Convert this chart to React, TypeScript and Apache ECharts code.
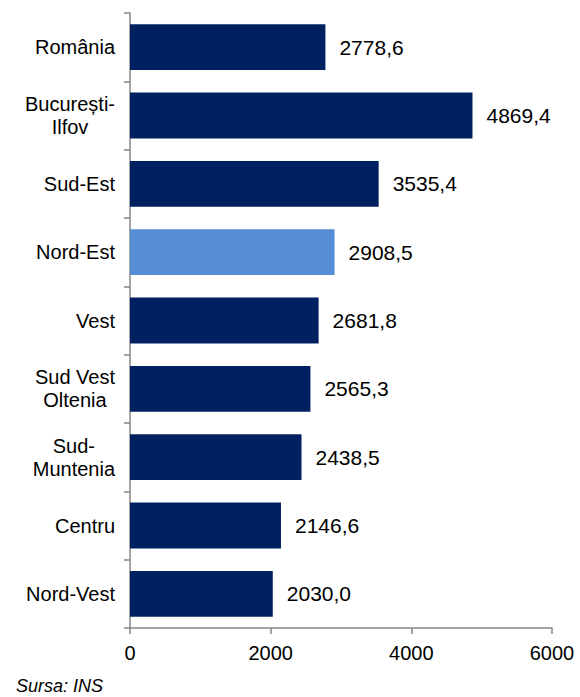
import React, { useEffect, useRef } from "react";
import * as echarts from "echarts";

const categories = [
  "România",
  "București-\nIlfov",
  "Sud-Est",
  "Nord-Est",
  "Vest",
  "Sud Vest\nOltenia",
  "Sud-\nMuntenia",
  "Centru",
  "Nord-Vest",
];
const values = [2778.6, 4869.4, 3535.4, 2908.5, 2681.8, 2565.3, 2438.5, 2146.6, 2030.0];
const highlighted = ["Nord-Est"];
const xTicks = [0, 2000, 4000, 6000];

const DARK = "#002060";
const LIGHT = "#558ED5";
const FONT = "Liberation Sans";

export default function App() {
  const ref = useRef<HTMLDivElement>(null);
  useEffect(() => {
    if (!ref.current) return;
    const chart = echarts.init(ref.current, undefined, { renderer: "svg" });
    const cats = [...categories].reverse();
    const vals = [...values].reverse();
    chart.setOption({
      animation: false,
      grid: { left: 130, right: 28, top: 13, bottom: 69, containLabel: false },
      xAxis: {
        type: "value",
        min: xTicks[0],
        max: xTicks[xTicks.length - 1],
        interval: 2000,
        splitLine: { show: false },
        axisLine: { show: true, lineStyle: { color: "#868686", width: 1.5 } },
        axisTick: { show: true, length: 6, inside: false, lineStyle: { color: "#868686", width: 1.5 } },
        axisLabel: {
          color: "#000",
          fontSize: 20,
          fontFamily: FONT,
          margin: 15,
          formatter: (v: number) => String(v),
        },
      },
      yAxis: {
        type: "category",
        data: cats,
        axisLine: { show: true, lineStyle: { color: "#868686", width: 1.5 } },
        axisTick: { show: true, length: 6, alignWithLabel: false, lineStyle: { color: "#868686", width: 1.5 } },
        axisLabel: {
          color: "#000",
          fontSize: 20,
          fontFamily: FONT,
          margin: 15,
          align: "right",
          lineHeight: 23,
          formatter: (v: string) =>
            v
              .split("\n")
              .map((l) => "{c|" + l + "}")
              .join("\n"),
          rich: {
            c: { align: "center", fontSize: 20, fontFamily: FONT, color: "#000", lineHeight: 23 },
          },
        },
      },
      series: [
        {
          type: "bar",
          data: vals.map((v, i) => ({
            value: v,
            itemStyle: { color: highlighted.includes(cats[i].replace("\n", "")) ? LIGHT : DARK },
          })),
          barCategoryGap: "33%",
          label: {
            show: true,
            position: "right",
            distance: 14,
            color: "#000",
            fontSize: 21,
            fontFamily: FONT,
            formatter: (p: any) => p.value.toFixed(1).replace(".", ","),
          },
        },
      ],
      graphic: [
        {
          type: "text",
          left: 16,
          top: 677,
          style: { text: "Sursa: INS", fontSize: 18, fontStyle: "italic", fontFamily: FONT, fill: "#000" },
        },
      ],
    });
    return () => chart.dispose();
  }, []);
  return <div ref={ref} style={{ width: 580, height: 697, position: "absolute", left: 0, top: 0 }} />;
}
